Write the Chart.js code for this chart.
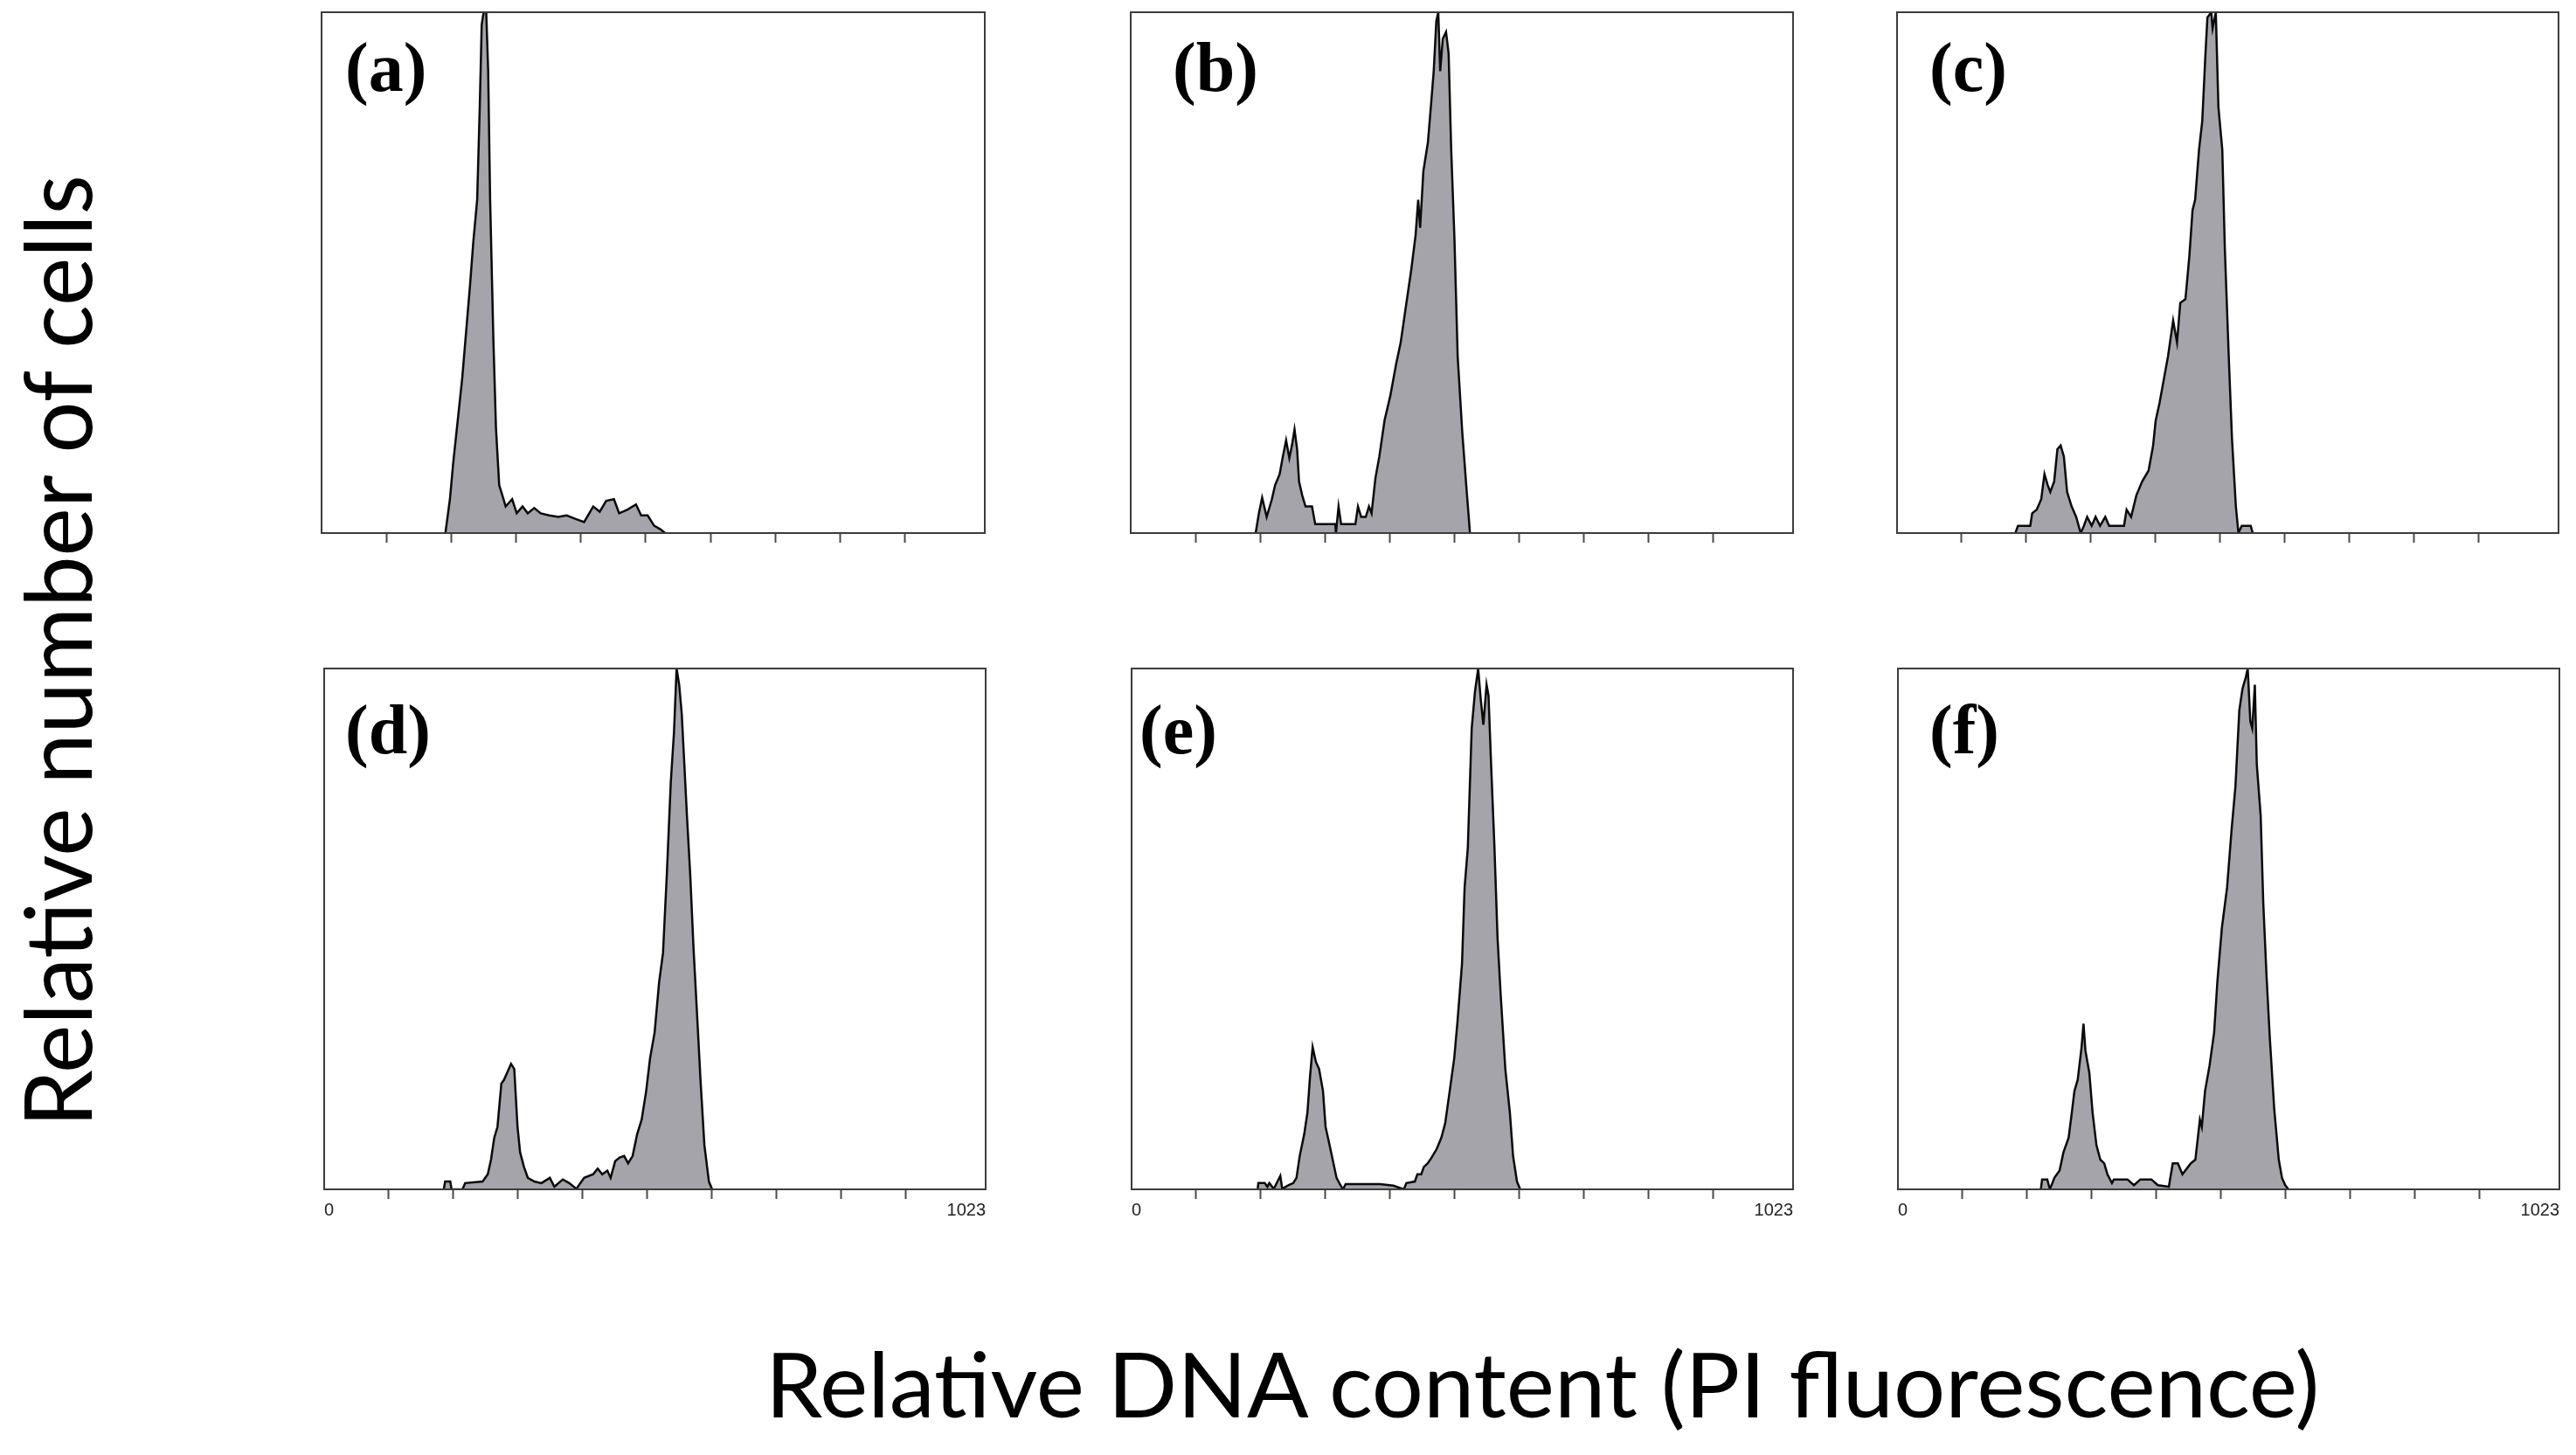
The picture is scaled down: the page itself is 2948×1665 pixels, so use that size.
<!DOCTYPE html>
<html><head><meta charset="utf-8">
<script src="https://cdn.jsdelivr.net/npm/chart.js@4.4.1/dist/chart.umd.min.js"></script>
<style>
html,body{margin:0;padding:0;background:#fff;width:2948px;height:1665px;overflow:hidden;position:relative}
canvas{position:absolute}
.lbl{position:absolute;font-family:'Liberation Serif',serif;font-weight:bold;font-size:80px;line-height:1;white-space:nowrap;color:#000}
.ttl{position:absolute;font-family:Lato,sans-serif;line-height:1;white-space:nowrap;color:#000;transform-origin:0 0}
</style></head><body>
<script>
// ---- data (channel, relative count) ----
const aX = [191,198,203,210,217,223,229,234,240,244,247,250,254,257,260,265,269,274,279,284,294,301,310,318,328,338,351,365,378,392,405,419,429,439,451,459,472,485,493,503,513,523,530];
const aY = [0,6.5,13.4,21.6,29.8,38.7,47.6,55.8,64,81.8,97.6,100,100,88.7,64,37.3,20.2,9.2,7.2,5.1,6.5,3.8,5.1,3.8,4.8,3.8,3.4,3.1,3.4,2.7,2.1,5.1,4.1,6.2,6.5,3.8,4.5,5.5,3.4,3.4,1.4,0.7,0];
const bX = [193,198,203,210,218,223,230,235,240,245,249,253,257,260,265,270,280,285,297,316,317,321,325,347,351,356,363,368,372,378,384,392,401,410,417,425,433,440,444,447,452,459,464,468,472,475,478,482,487,491,495,500,505,512,519,524];
const bY = [0,3.8,6.8,3.1,6.5,9.2,11.3,14.7,17.8,14.4,16.8,19.9,16.1,9.9,7.2,5.1,5.1,1.7,1.7,1.7,0,5.1,1.7,1.7,5.1,3.1,3.1,5.1,3.8,10.6,14.7,21.6,26.4,32.5,36.6,43.5,50.3,57.2,64,58.6,69.5,75,82.5,88.7,98.3,100,88.7,94.9,96.2,92.1,73.6,56.5,33.9,19.5,7.9,0];
const cX = [183,187,206,209,216,223,228,233,237,243,248,253,258,263,270,277,284,289,294,301,307,314,322,328,351,355,362,370,379,389,396,400,406,413,419,427,433,438,446,452,457,461,467,472,477,480,486,488,493,497,503,507,513,518,524,528,533,547,550];
const cY = [0,1.4,1.4,3.8,4.5,6.5,11.3,9.2,7.9,9.9,16.1,16.8,14.7,7.9,5.1,3.1,0,1.4,3.1,1.4,3.1,1.4,3.1,1.4,1.4,4.5,3.1,7.2,9.9,12,16.8,21.6,25,29.8,33.9,40.8,36.6,44.2,44.9,53.1,62,64,73.6,79.1,92.1,99,100,96.9,100,81.8,73.6,54.4,33.9,18.1,5.1,0,1.4,1.4,0];
const dX = [185,187,195,197,214,218,245,253,258,263,268,274,278,283,289,294,299,303,309,315,325,336,349,356,369,379,390,402,416,423,430,438,443,450,457,464,470,477,484,491,498,504,511,518,524,530,536,541,545,549,553,557,561,566,571,577,582,588,595,600];
const dY = [0,1.5,1.5,0,0,1.2,1.5,2.9,5.7,9.9,12,20.3,21,22.4,24.1,23.1,12,7.1,4.3,2.2,1.5,1.2,2.2,0.5,1.9,1.2,0.1,2.2,2.9,4,2.9,3.6,2.2,5.4,6.1,6.4,5,6.4,10.6,13.4,18.9,25.2,30.1,39.8,45.4,60.7,78.1,87.8,100,96.9,91.3,81.6,71.8,60.7,46.8,32.8,21,8.5,1.5,0];
const eX = [195,196,206,210,213,220,230,233,243,250,255,260,267,272,276,280,285,290,296,300,305,311,317,323,327,331,358,384,405,421,425,438,442,448,452,458,464,472,479,485,492,499,504,511,515,520,526,531,536,540,544,549,552,556,561,566,571,578,585,590,596,601];
const eY = [0,1.2,1.2,0.5,1.2,0.1,2.6,0.1,0.8,1.2,2.2,6.4,10.6,14.8,21.7,27.3,24.5,23.1,18.9,12,9.2,5.7,2.2,0.8,0,1,1,1,0.7,0,1.2,1.5,2.9,2.9,4.3,5,6.1,7.8,9.9,12.7,18.9,25.2,32.2,43.3,57.9,65.6,88.5,95.5,100,94.1,89.2,96.9,94.8,81.6,66.3,48.2,37,23.1,14.8,6.4,1.5,0];
const fX = [221,223,231,235,242,250,256,264,269,273,278,284,287,290,296,301,307,313,319,324,331,334,355,365,375,392,402,419,425,433,440,453,460,467,470,475,482,489,494,501,509,516,522,528,533,538,541,545,548,552,555,561,565,570,575,582,589,594,599,604];
const fY = [0,1.9,1.9,0,2.2,3.6,7.1,9.9,14.8,18.9,21,27.3,31.8,26.6,22.4,14.8,8.5,5.7,5,2.9,1.2,1.9,1.9,0.8,1.9,1.9,0.8,0.5,5,5,2.9,5,5.7,13.4,12,18.9,23.8,30.1,39.8,50.2,57.9,69,77.4,92,96.2,98.3,100,89.9,88.5,96.9,81.6,71.8,55.1,41.2,29.4,15.4,5.7,2.2,0.8,0];

const panelLabels = ['(a)','(b)','(c)','(d)','(e)','(f)'];
const xTickValues = [0,100,200,300,400,500,600,700,800,900,1023];
const xEndLabels = ['0','1023'];
const xMin = 0, xMax = 1023, yMax = 100;
const yTitle = 'Relative number of cells';
const xTitle = 'Relative DNA content (PI fluorescence)';

const series = [[aX,aY],[bX,bY],[cX,cY],[dX,dY],[eX,eY],[fX,fY]];

// ---- layout (plot frames in page pixels) ----
const frames = [
  {l:368, r:1127, t:14,  b:610,  lx:395,  ly:37,  labels:false},
  {l:1294,r:2052, t:14,  b:610,  lx:1342, ly:37,  labels:false},
  {l:2171,r:2928, t:14,  b:610,  lx:2208, ly:37,  labels:false},
  {l:371, r:1128, t:765, b:1361, lx:395,  ly:795, labels:true},
  {l:1295,r:2052, t:765, b:1361, lx:1304, ly:795, labels:true},
  {l:2172,r:2929, t:765, b:1361, lx:2208, ly:795, labels:true}
];
const PADX = 20, PADT = 10, AXISH = 40;

const framePlugin = {
  id: 'frame',
  afterDatasetsDraw(chart) {
    const {ctx, chartArea: a} = chart;
    ctx.save();
    ctx.strokeStyle = '#3c3c3c';
    ctx.lineWidth = 2;
    ctx.strokeRect(a.left, a.top, a.right - a.left, a.bottom - a.top);
    ctx.restore();
  }
};

frames.forEach((f, i) => {
  const cv = document.createElement('canvas');
  const w = (f.r - f.l) + 2 * PADX, h = (f.b - f.t) + PADT + AXISH;
  cv.width = w; cv.height = h;
  cv.style.left = (f.l - PADX) + 'px';
  cv.style.top = (f.t - PADT) + 'px';
  cv.style.width = w + 'px'; cv.style.height = h + 'px';
  document.body.appendChild(cv);
  const [xs, ys] = series[i];
  const pts = xs.map((x, k) => ({x: x, y: ys[k]}));
  const last = xTickValues.length - 1;
  new Chart(cv, {
    type: 'line',
    data: {datasets: [{
      data: pts,
      fill: 'origin',
      backgroundColor: '#a4a4aa',
      borderColor: '#0a0a0a',
      borderWidth: 2.5,
      pointRadius: 0,
      tension: 0
    }]},
    plugins: [framePlugin],
    options: {
      responsive: false,
      devicePixelRatio: 1,
      animation: false,
      layout: {padding: {left: PADX, right: PADX, top: PADT, bottom: 0}},
      plugins: {legend: {display: false}, tooltip: {enabled: false}},
      scales: {
        x: {
          type: 'linear', min: xMin, max: xMax,
          afterBuildTicks: s => { s.ticks = xTickValues.map(v => ({value: v})); },
          afterFit: s => { s.height = AXISH; },
          border: {display: false},
          grid: {
            drawOnChartArea: false, drawTicks: true, tickLength: 11, tickWidth: 2,
            tickColor: ctx => (ctx.index === 0 || ctx.index === last) ? 'rgba(0,0,0,0)' : '#4a4a4a'
          },
          ticks: {
            align: 'inner', padding: 1, autoSkip: false, maxRotation: 0, color: '#222',
            font: {family: "'Liberation Sans', sans-serif", size: 20},
            callback: (v, idx) => !f.labels ? '' : (idx === 0 ? xEndLabels[0] : (idx === last ? xEndLabels[1] : ''))
          }
        },
        y: {display: false, min: 0, max: yMax}
      }
    }
  });
  const lb = document.createElement('div');
  lb.className = 'lbl';
  lb.textContent = panelLabels[i];
  lb.style.left = f.lx + 'px';
  lb.style.top = f.ly + 'px';
  document.body.appendChild(lb);
});

function placeTitle(text, size, targetLen, x, y, rotate) {
  const c = document.createElement('canvas').getContext('2d');
  c.font = size + 'px Lato';
  const s = targetLen / c.measureText(text).width;
  const d = document.createElement('div');
  d.className = 'ttl';
  d.textContent = text;
  d.style.fontSize = size + 'px';
  d.style.left = x + 'px';
  d.style.top = y + 'px';
  d.style.transform = rotate ? `rotate(-90deg) scale(${s},1)` : `scale(${s},1)`;
  document.body.appendChild(d);
}
placeTitle(yTitle, 107, 1094, 10, 1290, true);
placeTitle(xTitle, 102, 1782, 876, 1532, false);
</script>
</body></html>
